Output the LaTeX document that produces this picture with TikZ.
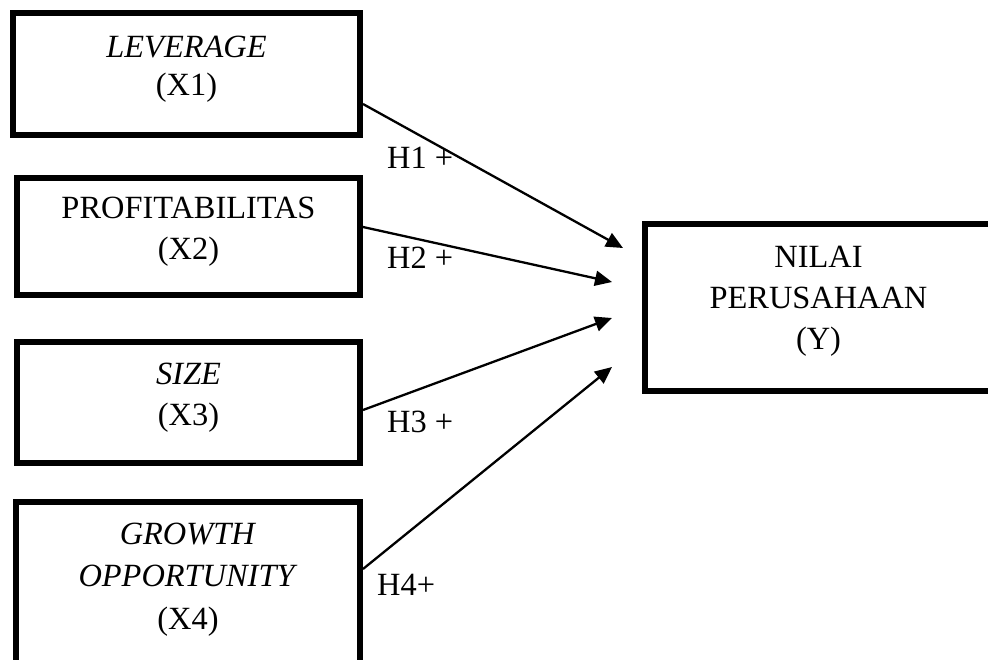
\documentclass[tikz,border=0pt]{standalone}
\usepackage{fontspec}
\setmainfont{Liberation Serif}
\usetikzlibrary{arrows.meta}
\tikzset{
  varbox/.style={draw,line width=6pt,rectangle,align=center,inner sep=0pt,
    text depth=17pt,font=\fontsize{32.4}{41}\selectfont},
  hyparrow/.style={line width=2.3pt,-{Triangle[length=17pt,width=15pt]}},
  hyplabel/.style={anchor=base west,inner sep=0pt,
    font=\fontsize{32.4}{41}\selectfont}
}
\begin{document}
\begin{tikzpicture}[x=1pt,y=-1pt]%
\useasboundingbox (0,0) rectangle (988,659);
% independent variables
\node[varbox,minimum width=347pt,minimum height=122pt] (lev) at (186.5,74)
  {\textit{LEVERAGE}\\[-3pt](X1)};
\node[varbox,minimum width=343pt,minimum height=117pt] (prof) at (188.5,236.5)
  {PROFITABILITAS\\(X2)};
\node[varbox,minimum width=343pt,minimum height=121pt] (size) at (188.5,402.5)
  {\textit{SIZE}\\(X3)};
\node[varbox,minimum width=344pt,minimum height=166pt,text depth=18pt] (grow)
  at (188,585) {\textit{GROWTH}\\[1.5pt]\textit{OPPORTUNITY}\\[1.5pt](X4)};
% dependent variable
\node[varbox,minimum width=347pt,minimum height=167pt,text depth=19pt] (nilai)
  at (818.5,307.5) {NILAI\\PERUSAHAAN\\(Y)};
% arrow tips
\coordinate (t1) at (623,248);
\coordinate (t2) at (612,282);
\coordinate (t3) at (612,318);
\coordinate (t4) at (612,367);
\draw[hyparrow] ([yshift=-30pt]lev.east) -- (t1);
\draw[hyparrow] ([yshift=9.5pt]prof.east) -- (t2);
\draw[hyparrow] ([yshift=-7.5pt]size.east) -- (t3);
\draw[hyparrow] ([yshift=-70pt]grow.north east) -- (t4);
\node[hyplabel] (h1) at (387,168) {H1 +};
\node[hyplabel] (h2) at (387,268) {H2 +};
\node[hyplabel] (h3) at (387,432) {H3 +};
\node[hyplabel] (h4) at (377,595) {H4+};
\end{tikzpicture}
\end{document}
